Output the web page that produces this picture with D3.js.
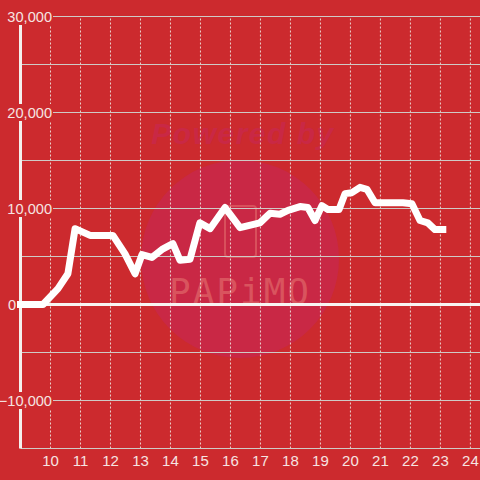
<!DOCTYPE html>
<html>
<head>
<meta charset="utf-8">
<script src="https://cdn.jsdelivr.net/npm/d3@7/dist/d3.min.js"></script>
<style>
  html, body { margin: 0; padding: 0; background: #cc2a2e; }
  svg { display: block; font-family: "Liberation Sans", Arial, sans-serif; }
</style>
</head>
<body>
<div id="chart"></div>
<script>
const hours = [9, 9.75, 10.25, 10.58, 10.82, 11.32, 12.08, 12.48, 12.82, 13.05, 13.38, 13.75, 14.08, 14.32, 14.65, 14.98, 15.32, 15.82, 16.32, 16.98, 17.32, 17.65, 17.92, 18.32, 18.58, 18.82, 19.05, 19.25, 19.62, 19.82, 20.05, 20.32, 20.55, 20.82, 21.75, 22.05, 22.32, 22.58, 22.82, 23.08];
const values = [0, 0, 1650, 3200, 7900, 7200, 7200, 5300, 3200, 5200, 4900, 5800, 6350, 4600, 4700, 8500, 7900, 10100, 8000, 8500, 9500, 9400, 9800, 10200, 10100, 8750, 10300, 9900, 9900, 11550, 11650, 12200, 12000, 10600, 10600, 10500, 8750, 8500, 7800, 7800];
const xTicks = [10, 11, 12, 13, 14, 15, 16, 17, 18, 19, 20, 21, 22, 23, 24];
const yTicks = [30000, 25000, 20000, 15000, 10000, 5000, 0, -5000, -10000];
const yLabels = [30000, 20000, 10000, 0, -10000];

const width = 480,
      height = 480,
      left = 20.5,
      top_ = 16.5,
      bottom = 448.5;

let xScale = d3.scaleLinear().domain([9, 24.32]).range([left, width]);
let yScale = d3.scaleLinear().domain([30000, -15000]).range([top_, bottom]);

let canvas = d3.select('#chart')
  .append('svg')
  .attr('width', width)
  .attr('height', height);

canvas.append('rect')
  .attr('width', width)
  .attr('height', height)
  .attr('fill', '#cc2a2e');

// Watermark
let mark = canvas.append('g');
mark.append('circle')
  .attr('cx', 240).attr('cy', 259).attr('r', 99)
  .attr('fill', '#c92845');
mark.append('text')
  .attr('x', 243).attr('y', 144)
  .attr('text-anchor', 'middle')
  .attr('font-size', 30).attr('font-weight', 'bold').attr('font-style', 'italic')
  .attr('letter-spacing', 1.5)
  .attr('fill', '#c92845')
  .text('Powered by');
mark.append('rect')
  .attr('x', 225).attr('y', 206).attr('width', 31).attr('height', 51).attr('rx', 3)
  .attr('fill', 'none').attr('stroke', '#d8505c').attr('stroke-width', 2);
mark.append('text')
  .attr('x', 240).attr('y', 304)
  .attr('text-anchor', 'middle')
  .attr('font-size', 36)
  .attr('letter-spacing', 2)
  .attr('fill', '#d9545e')
  .attr('font-family', 'DejaVu Sans Mono')
  .text('PAPiMO');

// Grid from the axes, offset 0 since the scales already land on pixel centres
let xAxis = d3.axisBottom(xScale)
  .tickValues(xTicks)
  .tickSize(-(bottom - top_))
  .tickPadding(7)
  .offset(0)
  .tickFormat(d => d);

let xG = canvas.append('g')
  .attr('transform', `translate(0, ${bottom})`)
  .call(xAxis);

xG.select('.domain').remove();
xG.selectAll('line')
  .attr('stroke', '#f0f0ea')
  .attr('stroke-opacity', 0.85)
  .attr('stroke-dasharray', '2,2');

let yAxis = d3.axisLeft(yScale)
  .tickValues(yTicks)
  .tickSize(-(width - left))
  .offset(0)
  .tickFormat('');

let yG = canvas.append('g')
  .attr('transform', `translate(${left}, 0)`)
  .call(yAxis);

yG.select('.domain').remove();
yG.selectAll('line')
  .attr('stroke', '#cfcac6');

// Bottom line
canvas.append('line')
  .attr('x1', left).attr('x2', width)
  .attr('y1', bottom).attr('y2', bottom)
  .attr('stroke', '#cfcac6');

// Left axis line and the zero line
canvas.append('line')
  .attr('x1', left).attr('x2', left)
  .attr('y1', top_).attr('y2', bottom)
  .attr('stroke', '#f4f0ee')
  .attr('stroke-width', 3);

canvas.append('line')
  .attr('x1', left).attr('x2', width)
  .attr('y1', yScale(0)).attr('y2', yScale(0))
  .attr('stroke', '#f8f4f2')
  .attr('stroke-width', 3);

// Y labels sit on a patch of background
let fmt = d3.format(',');
let labels = canvas.append('g').selectAll('g')
  .data(yLabels)
  .join('g')
  .attr('transform', d => `translate(${d === 0 ? 16 : 52}, ${yScale(d)})`);

labels.append('rect')
  .attr('x', d => d === 0 ? -10 : -52)
  .attr('y', -8.5)
  .attr('width', d => d === 0 ? 12 : 53)
  .attr('height', 17)
  .attr('fill', '#cc2a2e');

labels.append('text')
  .attr('text-anchor', 'end')
  .attr('dy', '0.36em')
  .attr('font-size', 14.6)
  .attr('fill', '#f6e4e2')
  .text(d => fmt(d));

// X labels
xG.selectAll('text')
  .attr('font-size', 15)
  .attr('font-family', '"Liberation Sans", Arial, sans-serif')
  .attr('fill', '#f6e4e2');

// Series
let line = d3.line()
  .x((d, i) => xScale(hours[i]))
  .y(d => yScale(d));

canvas.append('path')
  .attr('d', line(values))
  .attr('fill', 'none')
  .attr('stroke', '#ffffff')
  .attr('stroke-width', 7)
  .attr('stroke-linecap', 'square')
  .attr('stroke-linejoin', 'round');
</script>
</body>
</html>
